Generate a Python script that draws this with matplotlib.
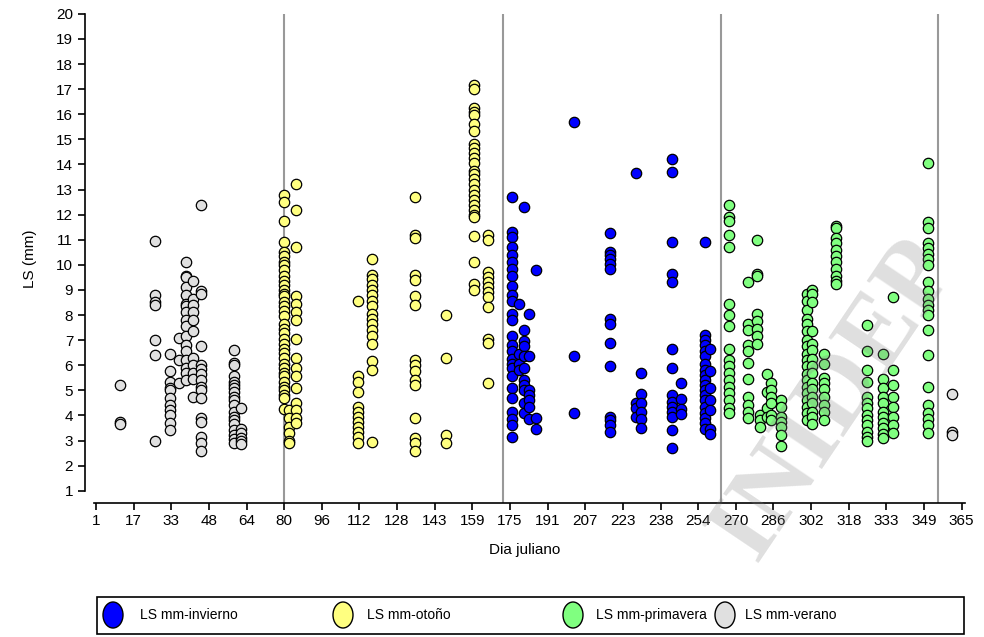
import numpy as np
import matplotlib
matplotlib.use("Agg")
import matplotlib.pyplot as plt
from matplotlib.patches import Ellipse, Rectangle

plt.rcParams["font.family"] = ["Liberation Sans", "DejaVu Sans"]

# julian day -> LS (mm) values, per season
verano_days = [11, 26, 32, 36, 39, 42, 45, 59, 62, 361]
verano_ls = [
    [5.2, 3.75, 3.65],
    [10.95, 8.8, 8.5, 8.4, 7.0, 6.4, 3.0],
    [6.45, 5.75, 5.35, 5.1, 5.0, 4.7, 4.4, 4.2, 4.0, 3.7, 3.4],
    [7.1, 6.2, 5.3],
    [10.1, 9.55, 9.5, 9.1, 8.8, 8.45, 8.35, 8.1, 7.8, 7.55, 7.15, 6.8, 6.55, 6.2, 5.9, 5.7, 5.4],
    [9.35, 8.65, 8.4, 8.1, 7.8, 7.35, 6.3, 6.0, 5.7, 5.45, 4.75],
    [12.4, 8.95, 8.85, 6.75, 6.0, 5.85, 5.65, 5.4, 5.15, 5.0, 4.7, 3.9, 3.75, 3.15, 2.9, 2.6],
    [6.6, 6.1, 6.0, 5.55, 5.35, 5.2, 5.1, 4.95, 4.75, 4.6, 4.4, 4.15, 3.95, 3.8, 3.65, 3.4, 3.2, 3.05, 2.9],
    [4.3, 3.45, 3.3, 3.1, 3.0, 2.85],
    [4.85, 3.35, 3.2],
]

otono_days = [80, 82, 85, 111, 117, 135, 148, 160, 166]
otono_ls = [
    [12.8, 12.5, 11.75, 10.9, 10.5, 10.35, 10.1, 10.0, 9.8, 9.55, 9.35, 9.2, 9.0, 8.85, 8.75, 8.5, 8.35,
     8.15, 7.95, 7.65, 7.45, 7.3, 7.05, 6.85, 6.65, 6.5, 6.3, 6.05, 5.9, 5.7, 5.55, 5.35, 5.15, 5.0, 4.8, 4.7, 4.25],
    [4.2, 3.9, 3.55, 3.3, 3.0, 2.9],
    [13.2, 12.2, 10.7, 8.75, 8.45, 8.1, 7.8, 7.05, 6.3, 5.9, 5.55, 5.1, 4.5, 4.2, 3.9, 3.7],
    [8.55, 5.55, 5.35, 4.95, 4.35, 4.15, 3.95, 3.75, 3.55, 3.35, 3.15, 2.9],
    [10.25, 9.6, 9.45, 9.2, 9.0, 8.8, 8.55, 8.35, 8.05, 7.85, 7.65, 7.4, 7.15, 6.85, 6.15, 5.8, 2.95],
    [12.7, 11.2, 11.05, 9.6, 9.4, 8.75, 8.4, 6.2, 6.0, 5.75, 5.4, 5.2, 3.9, 3.1, 2.9, 2.6],
    [8.0, 6.3, 3.2, 2.9],
    [17.15, 17.0, 16.25, 16.1, 15.95, 15.6, 15.35, 14.8, 14.65, 14.45, 14.25, 14.05, 13.75, 13.6, 13.4,
     13.2, 13.0, 12.8, 12.6, 12.4, 12.2, 12.0, 11.9, 11.15, 10.1, 9.25, 9.0],
    [11.2, 11.0, 9.7, 9.5, 9.3, 9.1, 8.9, 8.7, 8.3, 7.05, 6.9, 5.3],
]

invierno_days = [176, 179, 181, 183, 186, 202, 217, 228, 230, 243, 247, 257, 259]
invierno_ls = [
    [12.7, 11.3, 11.1, 10.7, 10.4, 10.1, 9.85, 9.55, 9.15, 8.8, 8.55, 8.05, 7.8, 7.15, 6.8, 6.55, 6.25,
     6.05, 5.9, 5.55, 5.1, 4.7, 4.15, 3.85, 3.6, 3.15],
    [8.45, 6.45, 6.05, 5.8],
    [12.3, 7.4, 6.95, 6.75, 6.35, 5.9, 5.4, 5.2, 5.0, 4.5, 4.1],
    [8.05, 6.35, 5.0, 4.8, 4.6, 4.35, 3.85],
    [9.8, 3.9, 3.45],
    [15.7, 6.35, 4.1],
    [11.25, 10.5, 10.4, 10.25, 10.05, 9.85, 7.85, 7.65, 6.9, 5.95, 3.95, 3.8, 3.6, 3.35],
    [13.65, 4.5, 4.3, 3.95],
    [5.7, 4.85, 4.5, 4.15, 3.85, 3.5],
    [14.2, 13.7, 10.9, 9.65, 9.3, 6.65, 5.9, 4.8, 4.55, 4.35, 4.15, 3.95, 3.4, 2.7],
    [5.3, 4.65, 4.25, 4.05],
    [10.9, 7.2, 7.0, 6.8, 6.55, 6.35, 6.05, 5.8, 5.6, 5.4, 5.2, 5.0, 4.8, 4.6, 4.35, 4.1, 3.9, 3.7, 3.45],
    [6.65, 5.75, 5.1, 4.6, 4.2, 3.45, 3.25],
]

primavera_days = [267, 275, 279, 280, 283, 285, 289, 300, 302, 307, 312, 325, 332, 336, 351]
primavera_ls = [
    [12.4, 11.9, 11.75, 11.2, 10.7, 8.45, 8.0, 7.55, 6.65, 6.2, 5.95, 5.7, 5.4, 5.15, 4.9, 4.6, 4.3, 4.1],
    [9.3, 7.65, 7.4, 6.8, 6.55, 6.1, 5.45, 4.75, 4.4, 4.15, 3.9],
    [11.0, 9.65, 9.55, 8.05, 7.75, 7.45, 7.15, 6.85],
    [4.0, 3.8, 3.55],
    [5.65, 4.95, 4.3, 3.95],
    [5.3, 5.0, 4.75, 4.5, 4.0, 3.8],
    [4.6, 4.35, 3.95, 3.75, 3.55, 3.2, 2.8],
    [8.85, 8.55, 8.2, 7.85, 7.65, 7.35, 7.0, 6.75, 6.45, 6.2, 5.95, 5.65, 5.4, 5.15, 4.9, 4.6, 4.35, 4.1, 3.8],
    [9.0, 8.85, 8.5, 7.35, 6.85, 6.6, 6.25, 5.95, 5.7, 5.3, 5.05, 4.75, 4.5, 4.15, 3.95, 3.65],
    [6.45, 6.05, 5.5, 5.3, 5.05, 4.75, 4.4, 4.15, 3.8],
    [11.55, 11.45, 11.05, 10.85, 10.6, 10.35, 10.1, 9.85, 9.55, 9.35, 9.25],
    [7.6, 6.55, 5.8, 5.35, 4.75, 4.5, 4.3, 4.0, 3.8, 3.6, 3.35, 3.15, 3.0],
    [6.45, 5.45, 5.1, 4.75, 4.5, 4.15, 3.95, 3.7, 3.5, 3.25, 3.1],
    [8.7, 5.8, 5.2, 4.75, 4.35, 3.95, 3.6, 3.3],
    [14.05, 11.7, 11.45, 10.85, 10.65, 10.45, 10.25, 10.0, 9.3, 8.95, 8.65, 8.4, 8.2, 8.0, 7.4, 6.4,
     5.15, 4.4, 4.1, 3.85, 3.6, 3.3],
]

season_lines = [80, 172, 264, 355]
xtick_labels = ["1", "17", "33", "48", "64", "80", "96", "112", "128", "143", "159", "175",
                "191", "207", "223", "238", "254", "270", "286", "302", "318", "333", "349", "365"]

series = [
    ("LS mm-invierno", invierno_days, invierno_ls, "#0000ff"),
    ("LS mm-otoño", otono_days, otono_ls, "#ffff80"),
    ("LS mm-primavera", primavera_days, primavera_ls, "#80ff80"),
    ("LS mm-verano", verano_days, verano_ls, "#e0e0e0"),
]

def flat(days, vals):
    xs = [d for d, v in zip(days, vals) for _ in v]
    ys = [y for v in vals for y in v]
    return np.array(xs), np.array(ys)

fig = plt.figure(figsize=(9.84, 6.37), dpi=100)
ax = fig.add_axes([85 / 984, 134 / 637, 880 / 984, 489.2 / 637])

for x in season_lines:
    ax.axvline(x, color="#999999", lw=1.5, zorder=1)

for name, days, vals, col in series:
    xs, ys = flat(days, vals)
    ax.scatter(xs, ys, s=56, c=col, edgecolors="black", linewidths=0.9, zorder=3, clip_on=False)

ax.set_xlim(-3.6, 366.4)
ax.set_ylim(0.51, 20)
ax.spines["top"].set_visible(False)
ax.spines["right"].set_visible(False)
ax.spines["left"].set_bounds(1, 20)
ax.spines["bottom"].set_bounds(0.3, 366.4)
for s in ("left", "bottom"):
    ax.spines[s].set_linewidth(1.2)
ax.set_yticks(range(1, 21))
ax.set_xticks(np.linspace(1, 365, 24))
ax.set_xticklabels(xtick_labels)
ax.tick_params(length=5, width=1.2, labelsize=11, colors="black")
ax.tick_params(axis="x", pad=3)
ax.set_ylabel("LS (mm)", fontsize=11, labelpad=14)
ax.set_xlabel("Dia juliano", fontsize=11, labelpad=11)

# legend drawn by hand so spacing matches the original box
fig.add_artist(Rectangle((97 / 984, 1 - 634 / 637), 867 / 984, 37 / 637, transform=fig.transFigure,
                         fill=False, ec="black", lw=1.2))
leg_x = [113, 343, 573, 725]
txt_x = [140, 367, 596, 745]
for (name, _, _, col), mx, tx in zip(series, leg_x, txt_x):
    fig.add_artist(Ellipse((mx / 984, 1 - 615 / 637), 20 / 984, 26 / 637, transform=fig.transFigure,
                           fc=col, ec="black", lw=1.0))
    fig.text(tx / 984, 1 - 615 / 637, name, fontsize=10, va="center", ha="left")

# watermark
fig.text(835 / 984, 1 - 400 / 637, "INIDEP", fontsize=74, family="Liberation Serif", weight="bold",
         rotation=56, color="#808080", alpha=0.25, ha="center", va="center", zorder=10)

fig.savefig("out.png", dpi=100)
